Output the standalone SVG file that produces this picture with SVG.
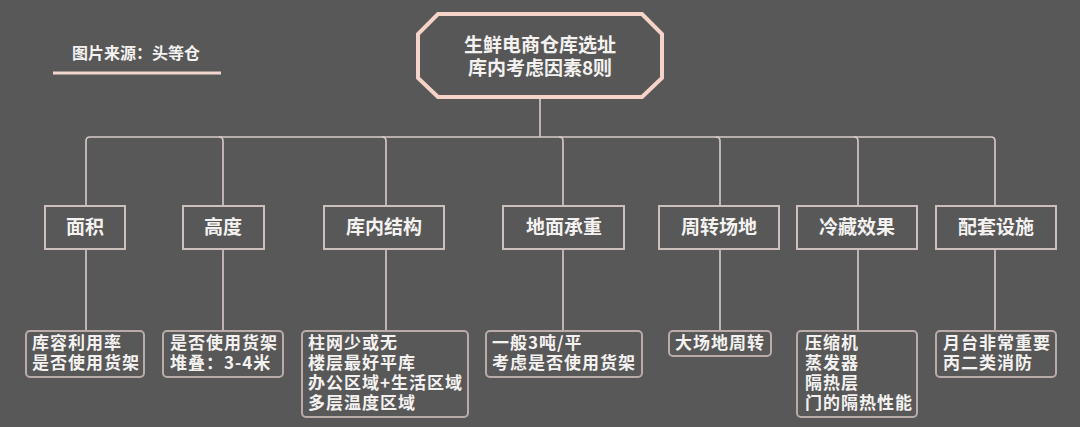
<svg xmlns="http://www.w3.org/2000/svg" width="1080" height="427" viewBox="0 0 1080 427">
<style>
text{font-family:"Noto Sans CJK SC","Noto Sans",sans-serif;fill:#f4f2f0;font-weight:bold}
.t{font-size:19px;text-anchor:middle}
.cat{fill:none;stroke:#cdbfbb;stroke-width:2}
.leaf{fill:none;stroke:#b9aca8;stroke-width:2}
.b{font-size:17px;letter-spacing:1px}
.c{fill:none;stroke:#d8cbc7;stroke-width:1.6}
</style>
<rect width="1080" height="427" fill="#585858"/>
<g id="source">
<text x="72" y="59" style="font-size:16px">图片来源：头等仓</text>
<line x1="53" y1="73" x2="221" y2="73" stroke="#f2d7ce" stroke-width="3"/>
</g>
<g id="connectors">
<path class="c" d="M540 98V137"/>
<path class="c" d="M86 206V141Q86 137 90 137H991Q995 137 995 141V206"/>
<path class="c" d="M219 137Q223 137 223 141V206"/>
<path class="c" d="M382 137Q386 137 386 141V206"/>
<path class="c" d="M559 137Q563 137 563 141V206"/>
<path class="c" d="M716 137Q720 137 720 141V206"/>
<path class="c" d="M854 137Q858 137 858 141V206"/>
<path class="c" d="M86 249V331M223 249V331M386 249V331M563 249V331M720 249V331M858 249V331M995 249V331"/>
</g>
<g id="root">
<polygon points="438,14 642,14 662,34 662,78 642,97 438,97 418,78 418,34" fill="#575757" stroke="#f5d3c8" stroke-width="4"/>
<text class="t" x="540" y="52">生鲜电商仓库选址<tspan x="540" dy="23">库内考虑因素8则</tspan></text>
</g>
<g id="n1"><rect class="cat" x="45" y="206" width="80" height="43"/><text class="t" x="85" y="234">面积</text></g>
<g id="n2"><rect class="cat" x="183" y="206" width="81" height="43"/><text class="t" x="223" y="234">高度</text></g>
<g id="n3"><rect class="cat" x="324" y="206" width="120" height="43"/><text class="t" x="384" y="234">库内结构</text></g>
<g id="n4"><rect class="cat" x="503" y="206" width="121" height="43"/><text class="t" x="564" y="234">地面承重</text></g>
<g id="n5"><rect class="cat" x="659" y="206" width="120" height="43"/><text class="t" x="719" y="234">周转场地</text></g>
<g id="n6"><rect class="cat" x="797" y="206" width="120" height="43"/><text class="t" x="857" y="234">冷藏效果</text></g>
<g id="n7"><rect class="cat" x="936" y="206" width="120" height="43"/><text class="t" x="996" y="234">配套设施</text></g>
<g id="l1"><rect class="leaf" x="26" y="331" width="118" height="46" rx="4"/><text class="b" x="32" y="349">库容利用率<tspan x="32" dy="20">是否使用货架</tspan></text></g>
<g id="l2"><rect class="leaf" x="163" y="331" width="120" height="46" rx="4"/><text class="b" x="170" y="349">是否使用货架<tspan x="170" dy="20">堆叠：3-4米</tspan></text></g>
<g id="l3"><rect class="leaf" x="302" y="331" width="166" height="86" rx="4"/><text class="b" x="308" y="349">柱网少或无<tspan x="308" dy="20">楼层最好平库</tspan><tspan x="308" dy="20">办公区域+生活区域</tspan><tspan x="308" dy="20">多层温度区域</tspan></text></g>
<g id="l4"><rect class="leaf" x="486" y="331" width="156" height="46" rx="4"/><text class="b" x="492" y="349">一般3吨/平<tspan x="492" dy="20">考虑是否使用货架</tspan></text></g>
<g id="l5"><rect class="leaf" x="669" y="331" width="102" height="25" rx="4"/><text class="b" x="675" y="349">大场地周转</text></g>
<g id="l6"><rect class="leaf" x="797" y="331" width="120" height="86" rx="4"/><text class="b" x="805" y="349">压缩机<tspan x="805" dy="20">蒸发器</tspan><tspan x="805" dy="20">隔热层</tspan><tspan x="805" dy="20">门的隔热性能</tspan></text></g>
<g id="l7"><rect class="leaf" x="936" y="331" width="120" height="46" rx="4"/><text class="b" x="943" y="349">月台非常重要<tspan x="943" dy="20">丙二类消防</tspan></text></g>
</svg>
